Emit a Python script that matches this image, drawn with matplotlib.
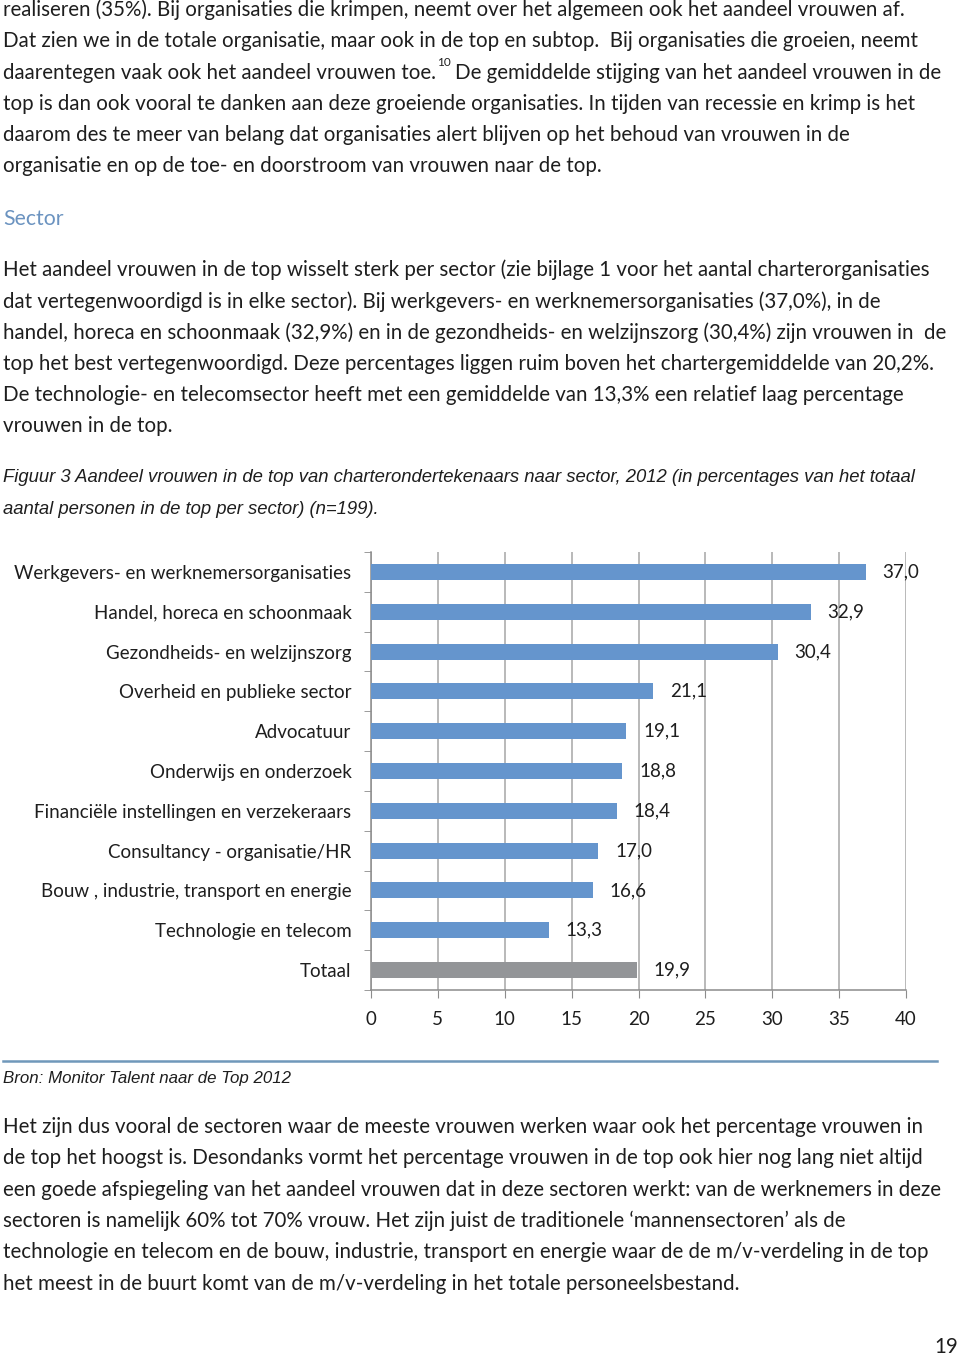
import matplotlib
matplotlib.use("Agg")
import matplotlib.pyplot as plt
import numpy as np

# chart data
sectors = [
    "Werkgevers- en werknemersorganisaties",
    "Handel, horeca en schoonmaak",
    "Gezondheids- en welzijnszorg",
    "Overheid en publieke sector",
    "Advocatuur",
    "Onderwijs en onderzoek",
    "Financiële instellingen en verzekeraars",
    "Consultancy - organisatie/HR",
    "Bouw , industrie, transport en energie",
    "Technologie en telecom",
    "Totaal",
]
share_women = [37.0, 32.9, 30.4, 21.1, 19.1, 18.8, 18.4, 17.0, 16.6, 13.3, 19.9]
x_ticks = [0, 5, 10, 15, 20, 25, 30, 35, 40]

para1 = [
    "realiseren (35%). Bij organisaties die krimpen, neemt over het algemeen ook het aandeel vrouwen af.",
    "Dat zien we in de totale organisatie, maar ook in de top en subtop.  Bij organisaties die groeien, neemt",
    None,  # line with footnote, handled below
    "top is dan ook vooral te danken aan deze groeiende organisaties. In tijden van recessie en krimp is het",
    "daarom des te meer van belang dat organisaties alert blijven op het behoud van vrouwen in de",
    "organisatie en op de toe- en doorstroom van vrouwen naar de top.",
]
para2 = [
    "Het aandeel vrouwen in de top wisselt sterk per sector (zie bijlage 1 voor het aantal charterorganisaties",
    "dat vertegenwoordigd is in elke sector). Bij werkgevers- en werknemersorganisaties (37,0%), in de",
    "handel, horeca en schoonmaak (32,9%) en in de gezondheids- en welzijnszorg (30,4%) zijn vrouwen in  de",
    "top het best vertegenwoordigd. Deze percentages liggen ruim boven het chartergemiddelde van 20,2%.",
    "De technologie- en telecomsector heeft met een gemiddelde van 13,3% een relatief laag percentage",
    "vrouwen in de top.",
]
caption = [
    "Figuur 3 Aandeel vrouwen in de top van charterondertekenaars naar sector, 2012 (in percentages van het totaal",
    "aantal personen in de top per sector) (n=199).",
]
para3 = [
    "Het zijn dus vooral de sectoren waar de meeste vrouwen werken waar ook het percentage vrouwen in",
    "de top het hoogst is. Desondanks vormt het percentage vrouwen in de top ook hier nog lang niet altijd",
    "een goede afspiegeling van het aandeel vrouwen dat in deze sectoren werkt: van de werknemers in deze",
    "sectoren is namelijk 60% tot 70% vrouw. Het zijn juist de traditionele \u2018mannensectoren\u2019 als de",
    "technologie en telecom en de bouw, industrie, transport en energie waar de de m/v-verdeling in de top",
    "het meest in de buurt komt van de m/v-verdeling in het totale personeelsbestand.",
]

W, H = 960, 1357
fig = plt.figure(figsize=(W / 100, H / 100), dpi=100)
fig.patch.set_facecolor("white")

body_font = ["Lato", "DejaVu Sans"]
cap_font = ["Liberation Sans Narrow", "Liberation Sans", "DejaVu Sans"]
txt_col = "#1e1e1e"
fs = 14.8
fs_chart = 13.5


def fy(py):
    return 1 - py / H


# bar chart
ax = fig.add_axes([371 / W, fy(990), (906 - 371) / W, (990 - 552) / H])
ypos = np.arange(len(sectors))
colors = ["#6595cd"] * (len(sectors) - 1) + ["#939598"]
ax.barh(ypos, share_women, height=0.4, color=colors, zorder=3)
ax.set_xlim(0, 40)
ax.set_ylim(len(sectors) - 0.5, -0.5)
ax.set_xticks(x_ticks)
ax.set_xticklabels([str(v) for v in x_ticks], fontsize=fs_chart, family=body_font, color=txt_col)
ax.set_yticks(ypos)
ax.set_yticklabels(sectors, fontsize=fs_chart, family=body_font, color=txt_col)
ax.set_yticks(np.arange(len(sectors) + 1) - 0.5, minor=True)
ax.tick_params(axis="y", which="major", length=0, pad=14)
ax.tick_params(axis="y", which="minor", length=5, color="#8c8c8c", direction="out")
ax.tick_params(axis="x", length=6, color="#8c8c8c", direction="out", pad=9)
ax.grid(axis="x", color="#a6a6a6", lw=1.1, zorder=0)
for side in ["top", "right"]:
    ax.spines[side].set_visible(False)
for side in ["left", "bottom"]:
    ax.spines[side].set_color("#8c8c8c")
    ax.spines[side].set_linewidth(1.1)

for y, v in zip(ypos, share_women):
    ax.annotate(f"{v:.1f}".replace(".", ","), xy=(v, y), xytext=(12, 0), textcoords="offset points",
                va="center", ha="left", fontsize=fs_chart, family=body_font, color=txt_col, zorder=4)


def line(px, py, s, **kw):
    kw.setdefault("fontsize", fs)
    kw.setdefault("family", body_font)
    kw.setdefault("color", txt_col)
    return fig.text(px / W, fy(py), s, va="center", ha="left", **kw)


step = 31.3
for i, s in enumerate(para1):
    if s is not None:
        line(3, 10 + i * step, s)

# line with footnote marker
t1 = line(3, 10 + 2 * step, "daarentegen vaak ook het aandeel vrouwen toe.")
sup = ax.annotate("10", xy=(1, 0.72), xycoords=t1, xytext=(0.5, 0), textcoords="offset points",
                  fontsize=8.5, family=body_font, color=txt_col, va="bottom", ha="left",
                  annotation_clip=False)
ax.annotate("De gemiddelde stijging van het aandeel vrouwen in de", xy=(1, 0.5), xycoords=(sup, t1),
            xytext=(3, 0), textcoords="offset points", fontsize=fs, family=body_font,
            color=txt_col, va="center", ha="left", annotation_clip=False)

line(3, 219, "Sector", color="#6b93c0", fontsize=fs + 0.5)

for i, s in enumerate(para2):
    line(3, 270 + i * step, s)

for i, s in enumerate(caption):
    line(3, 477 + i * 33, s, family=cap_font, style="italic", fontsize=13.3)

for i, s in enumerate(para3):
    line(3, 1127 + i * step, s)

line(3, 1078, "Bron: Monitor Talent naar de Top 2012", family=cap_font, style="italic", fontsize=12.2)
fig.add_artist(plt.Line2D([3 / W, 937 / W], [fy(1061), fy(1061)], color="#7098ba", lw=1.8))
fig.text(958 / W, fy(1347), "19", ha="right", va="center", fontsize=fs, family=body_font, color=txt_col)

fig.savefig("out.png", dpi=100, facecolor="white")
